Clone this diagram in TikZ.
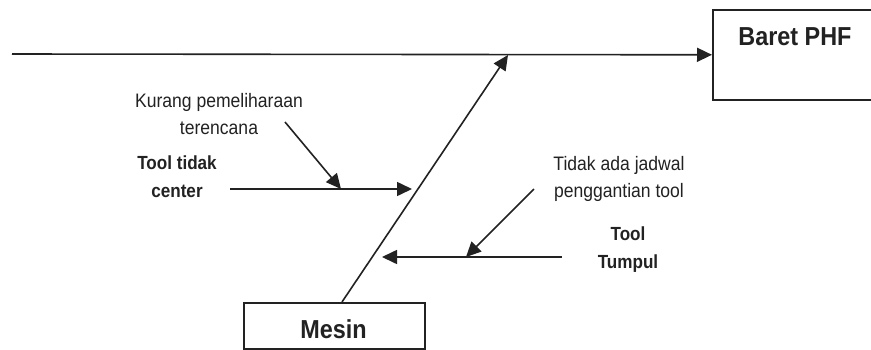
\documentclass[tikz,border=0pt]{standalone}
\usepackage{fontspec}
\setmainfont{Liberation Sans}
\newfontfamily\narrowsans[FakeStretch=0.9]{Liberation Sans}
\usetikzlibrary{arrows.meta}
\definecolor{ink}{HTML}{222222}
\tikzset{
  bone/.style={draw=ink, line width=1.6pt},
  tip/.style={bone, -{Triangle[length=15pt,width=14pt]}},
  boxnode/.style={draw=ink, line width=1.6pt, inner sep=0pt},
  cause/.style={text=ink, font=\narrowsans\fontsize{19.5}{27}\selectfont, align=center, inner sep=0pt},
  causebold/.style={text=ink, font=\narrowsans\fontsize{19}{28}\selectfont\bfseries, align=center, inner sep=0pt},
  title/.style={text=ink, font=\narrowsans\fontsize{26}{28}\selectfont\bfseries, inner sep=0pt}
}
\begin{document}
\begin{tikzpicture}[x=1pt,y=-1pt]
  \useasboundingbox (0,0) rectangle (871,349);
  \clip (0,0) rectangle (871,349);
  \fill[white] (0,0) rectangle (871,349);

  % effect box and main spine
  \node[boxnode, minimum width=168pt, minimum height=90pt, anchor=north west] (effect) at (712,9) {};
  \node[title] (effecttxt) at (795,37) {Baret PHF};
  \coordinate (spinestart) at (12,54);
  \draw[tip] (spinestart) -- (effect.west);

  % category box and its bone
  \node[boxnode, minimum width=181pt, minimum height=46pt, anchor=north west] (cat) at (243,302) {};
  \node[title] (cattxt) at (333.5,329) {Mesin};
  \coordinate (bonefoot) at (342,302);
  \coordinate (bonehead) at (508,55);
  \draw[tip] (bonefoot) -- (bonehead);

  % cause: Tool tidak center
  \node[causebold] (c1) at (177,177) {Tool tidak\\center};
  \coordinate (c1start) at (230,189);
  \coordinate (c1end) at (412,189);
  \draw[tip] (c1start) -- (c1end);

  % sub-cause: Kurang pemeliharaan terencana
  \node[cause] (s1) at (219,114) {Kurang pemeliharaan\\terencana};
  \coordinate (s1start) at (285,122);
  \coordinate (s1end) at (341,189);
  \draw[tip] (s1start) -- (s1end);

  % cause: Tool Tumpul
  \node[causebold] (c2) at (628,250) {Tool\\Tumpul};
  \coordinate (c2start) at (562,257);
  \coordinate (c2end) at (382,257);
  \draw[tip] (c2start) -- (c2end);

  % sub-cause: Tidak ada jadwal penggantian tool
  \node[cause] (s2) at (619,179) {Tidak ada jadwal\\penggantian tool};
  \coordinate (s2start) at (534,189);
  \coordinate (s2end) at (466,257);
  \draw[tip] (s2start) -- (s2end);
\end{tikzpicture}
\end{document}
